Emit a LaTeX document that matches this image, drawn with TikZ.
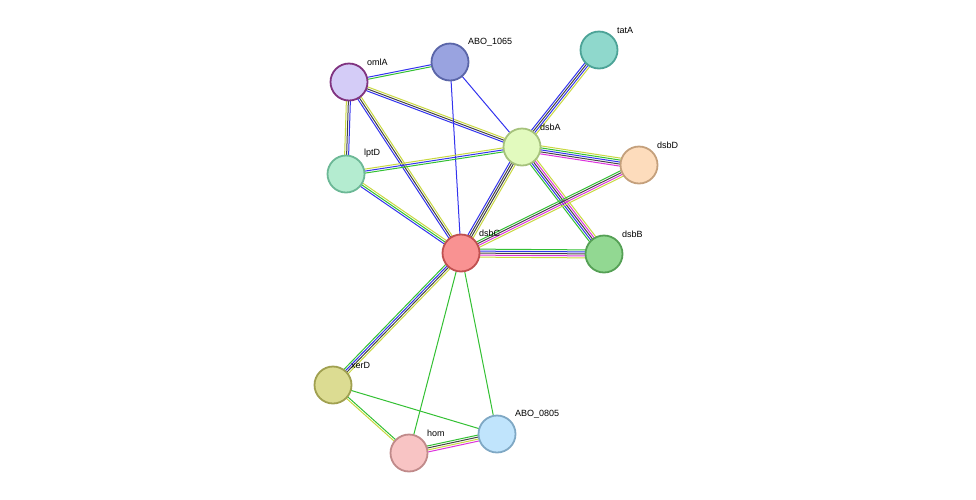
\documentclass[tikz,border=0pt]{standalone}
\usepackage{fontspec}
\setmainfont{Liberation Sans}
\usetikzlibrary{calc,backgrounds}
\definecolor{eblue}{HTML}{3333EE}
\definecolor{eyel}{HTML}{C8D840}
\definecolor{egreen}{HTML}{33C033}
\definecolor{emag}{HTML}{DD33DD}
\definecolor{eblack}{HTML}{444444}
\tikzset{
  prot/.style={circle, minimum size=37pt, inner sep=0pt, line width=1.8pt},
  lab/.style={font=\fontsize{9}{10}\selectfont, anchor=south west, inner sep=0pt},
}
% edge with parallel coloured lines: colour/offset pairs
\newcommand\sedge[3]{%
  \foreach \c/\o in {#3}
    \draw[\c, line width=1pt] ($(#1)!\o pt!90:(#2)$) -- ($(#2)!\o pt!-90:(#1)$);}
\begin{document}
\begin{tikzpicture}[x=1pt, y=-1pt]
\useasboundingbox (0,0) rectangle (976,499);
\node[prot, fill=purple!20!blue!20, draw=violet!60!gray] (omlA) at (349,82) {};
\node[prot, fill={rgb,255:red,153;green,163;blue,224}, draw={rgb,255:red,90;green,101;blue,168}] (abo1065) at (450,62) {};
\node[prot, fill={rgb,255:red,143;green,216;blue,204}, draw={rgb,255:red,76;green,163;blue,151}] (tatA) at (599,50) {};
\node[prot, fill={rgb,255:red,226;green,250;blue,190}, draw={rgb,255:red,166;green,194;blue,124}] (dsbA) at (522,147) {};
\node[prot, fill={rgb,255:red,253;green,220;blue,188}, draw={rgb,255:red,196;green,160;blue,124}] (dsbD) at (639,165) {};
\node[prot, fill={rgb,255:red,180;green,236;blue,208}, draw={rgb,255:red,108;green,184;blue,150}] (lptD) at (346,174) {};
\node[prot, fill={rgb,255:red,249;green,146;blue,146}, draw={rgb,255:red,192;green,80;blue,80}] (dsbC) at (461,253) {};
\node[prot, fill={rgb,255:red,146;green,216;blue,146}, draw={rgb,255:red,85;green,160;blue,85}] (dsbB) at (604,254) {};
\node[prot, fill={rgb,255:red,220;green,220;blue,146}, draw={rgb,255:red,160;green,160;blue,80}] (xerD) at (333,385) {};
\node[prot, fill={rgb,255:red,192;green,228;blue,252}, draw={rgb,255:red,127;green,168;blue,196}] (abo0805) at (497,434) {};
\node[prot, fill={rgb,255:red,248;green,196;blue,196}, draw={rgb,255:red,192;green,138;blue,138}] (hom) at (409,453) {};
\node[lab] at (367,66) {omlA};
\node[lab] at (468,46) {ABO\_1065};
\node[lab] at (617,34) {tatA};
\node[lab] at (540,131) {dsbA};
\node[lab] at (657,149) {dsbD};
\node[lab] at (364,158) {lptD};
\node[lab] at (479,237) {dsbC};
\node[lab] at (622,238) {dsbB};
\node[lab] at (351,369) {xerD};
\node[lab] at (515,418) {ABO\_0805};
\node[lab] at (427,437) {hom};
\begin{scope}[on background layer]
\sedge{omlA}{abo1065}{egreen/-1,eblue/1}
\sedge{omlA}{dsbA}{eblue/-2,eblack/0,eyel/2}
\sedge{omlA}{lptD}{eyel/-2,eblack/0,eblue/2}
\sedge{omlA}{dsbC}{eblue/-2,eblack/0,eyel/2}
\sedge{abo1065}{dsbC}{eblue/0}
\sedge{abo1065}{dsbA}{eblue/0}
\sedge{tatA}{dsbA}{eblue/-3,eblack/-1,eblue/1,eyel/3}
\sedge{lptD}{dsbA}{egreen/-2,eblue/0,eyel/2}
\sedge{lptD}{dsbC}{eblue/-2,egreen/0,eyel/2}
\sedge{dsbA}{dsbD}{emag/-4,eblack/-2,eblue/0,egreen/2,eyel/4}
\sedge{dsbA}{dsbC}{eblue/-3,eblack/-1,eblack/1,eyel/3}
\sedge{dsbA}{dsbB}{egreen/-4,eblue/-2,eblack/0,emag/2,eyel/4}
\sedge{dsbD}{dsbC}{egreen/-3,eblack/-1,emag/1,eyel/3}
\sedge{dsbC}{dsbB}{eyel/-4,emag/-2,eblack/0,eblue/2,egreen/4}
\sedge{dsbC}{xerD}{egreen/-3,eblue/-1,eblack/1,eyel/3}
\sedge{dsbC}{hom}{egreen/0}
\sedge{dsbC}{abo0805}{egreen/0}
\sedge{xerD}{hom}{eyel/-1,egreen/1}
\sedge{xerD}{abo0805}{egreen/0}
\sedge{hom}{abo0805}{emag/-3,eyel/-1,eblack/1,egreen/3}
\end{scope}
\end{tikzpicture}
\end{document}
